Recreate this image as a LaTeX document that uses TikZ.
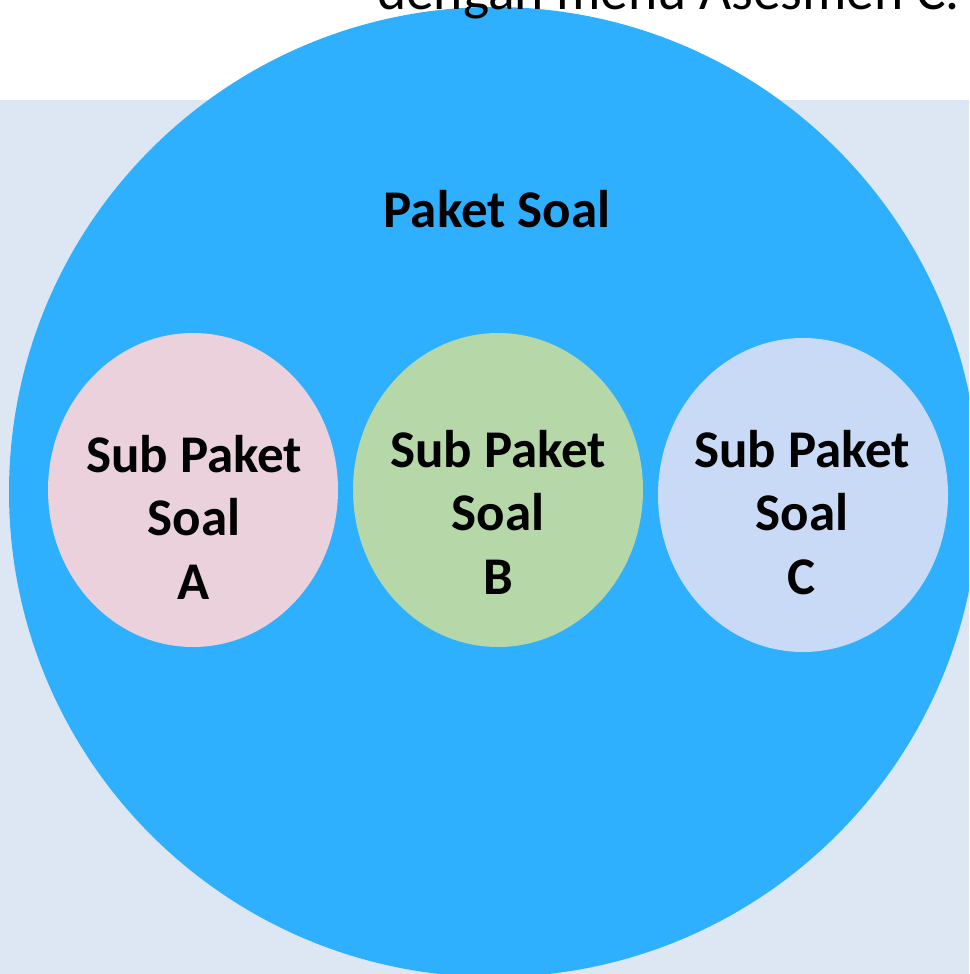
\documentclass[tikz,border=0pt]{standalone}
\usepackage{fontspec}
\setmainfont{Carlito}
\usetikzlibrary{shapes.geometric}
\definecolor{bgblue}{RGB}{220,231,243}
\definecolor{bigblue}{RGB}{46,176,255}
\definecolor{pinkA}{RGB}{234,209,220}
\definecolor{greenB}{RGB}{182,215,168}
\definecolor{blueC}{RGB}{201,218,247}
\begin{document}
\begin{tikzpicture}[x=1pt,y=-1pt,
  subcirc/.style={ellipse, draw=none, inner sep=0pt, minimum width=290pt, minimum height=314pt},
  lbl/.style={inner sep=0pt, text=black, font=\fontsize{53}{63.5}\selectfont\bfseries},
  toptext/.style={inner sep=0pt, text=black, font=\fontsize{55.5}{66}\selectfont}]
\useasboundingbox (0,0) rectangle (969,974);
\clip (0,0) rectangle (969,974);
\fill[white] (0,0) rectangle (969,100);
\fill[bgblue] (0,100) rectangle (969,974);
\node[circle, fill=bigblue, draw=none, minimum size=970pt, inner sep=0pt] (P) at (494,492) {};
\node[subcirc, fill=pinkA] (A) at (193,490) {};
\node[subcirc, fill=greenB] (B) at (498,490) {};
\node[subcirc, fill=blueC] (C) at (803,495) {};
\node[lbl, anchor=base] (ptitle) at (497,227) {Paket Soal};
\node[lbl, align=center, anchor=base] (tA) at (194,599) {Sub Paket\\Soal\\A};
\node[lbl, align=center, anchor=base] (tB) at (498,594) {Sub Paket\\Soal\\B};
\node[lbl, align=center, anchor=base] (tC) at (802,594) {Sub Paket\\Soal\\C};
\node[toptext, anchor=base west] (top) at (377,10) {dengan menu Asesmen C.};
\end{tikzpicture}
\end{document}
